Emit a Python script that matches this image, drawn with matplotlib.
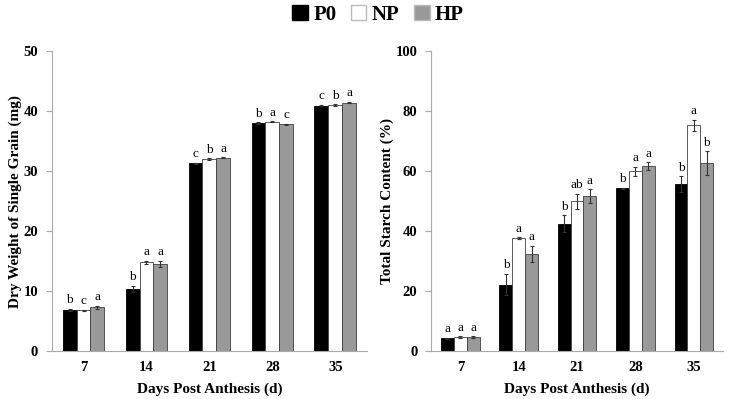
import numpy as np
import matplotlib.pyplot as plt
from matplotlib.patches import Patch

plt.rcParams['font.family'] = ['Liberation Serif', 'DejaVu Serif']

days = ["7", "14", "21", "28", "35"]
treatments = ["P0", "NP", "HP"]
colors = ["black", "white", "#999999"]

# dry weight of single grain (mg)
dw_P0 = [6.9, 10.4, 31.3, 38.0, 40.9]
dw_NP = [6.8, 14.8, 32.0, 38.2, 41.0]
dw_HP = [7.3, 14.5, 32.2, 37.8, 41.4]
dw_err_P0 = [0.15, 0.5, 0.1, 0.1, 0.1]
dw_err_NP = [0.1, 0.2, 0.1, 0.1, 0.1]
dw_err_HP = [0.2, 0.5, 0.1, 0.1, 0.1]
dw_let_P0 = ["b", "b", "c", "b", "c"]
dw_let_NP = ["c", "a", "b", "a", "b"]
dw_let_HP = ["a", "a", "a", "c", "a"]

# total starch content (%)
sc_P0 = [4.3, 22.2, 42.4, 54.3, 55.6]
sc_NP = [4.7, 37.6, 50.0, 60.0, 75.2]
sc_HP = [4.6, 32.4, 51.7, 61.6, 62.6]
sc_err_P0 = [0.2, 3.5, 2.8, 0.2, 2.6]
sc_err_NP = [0.2, 0.3, 2.5, 1.5, 1.8]
sc_err_HP = [0.3, 2.8, 2.2, 1.3, 4.0]
sc_let_P0 = ["a", "b", "b", "b", "b"]
sc_let_NP = ["a", "a", "ab", "a", "a"]
sc_let_HP = ["a", "a", "a", "a", "b"]

fig = plt.figure(figsize=(7.37, 3.99), dpi=100)
ax1 = fig.add_axes([0.0706, 0.120, 0.427, 0.752])
ax2 = fig.add_axes([0.585, 0.120, 0.396, 0.752])

def draw(ax, vals, errs, lets, ymax, step, ylabel):
    x = np.arange(len(days))
    w = 0.22
    for i in range(3):
        xs = x + (i - 1) * w
        ax.bar(xs, vals[i], w, color=colors[i], edgecolor="#404040" if i else "black",
               linewidth=0.6, zorder=2)
        ax.errorbar(xs, vals[i], yerr=errs[i], fmt="none", ecolor="#333333",
                    elinewidth=0.8, capsize=1.5, capthick=0.8, zorder=3)
        for xx, v, e, l in zip(xs, vals[i], errs[i], lets[i]):
            ax.annotate(l, (xx, v + e), xytext=(0, 2), textcoords="offset points",
                        ha="center", va="bottom", fontsize=9.5)
    ax.set_xlim(-0.5, len(days) - 0.5)
    ax.set_ylim(0, ymax)
    ax.set_yticks(np.arange(0, ymax + 1, step))
    ax.set_xticks(x)
    ax.set_xticklabels(days)
    for s in ["top", "right"]:
        ax.spines[s].set_visible(False)
    for s in ["left", "bottom"]:
        ax.spines[s].set_color("#aaaaaa")
    ax.tick_params(axis="x", length=0, pad=7)
    ax.tick_params(axis="y", length=4, color="#aaaaaa", pad=6)
    for t in ax.get_xticklabels() + ax.get_yticklabels():
        t.set_fontweight("bold")
        t.set_fontsize(10.5)
    ax.set_xlabel("Days Post Anthesis (d)", fontsize=11, fontweight="bold", labelpad=6)
    ax.set_ylabel(ylabel, fontsize=11, fontweight="bold", labelpad=1)

draw(ax1, [dw_P0, dw_NP, dw_HP], [dw_err_P0, dw_err_NP, dw_err_HP],
     [dw_let_P0, dw_let_NP, dw_let_HP], 50, 10, "Dry Weight of Single Grain (mg)")
draw(ax2, [sc_P0, sc_NP, sc_HP], [sc_err_P0, sc_err_NP, sc_err_HP],
     [sc_let_P0, sc_let_NP, sc_let_HP], 100, 20, "Total Starch Content (%)")

handles = [Patch(facecolor=c, edgecolor="#bbbbbb" if c != "black" else "black") for c in colors]
fig.legend(handles, treatments, loc="upper center", bbox_to_anchor=(0.513, 1.035), ncol=3,
           frameon=False, prop={"weight": "bold", "size": 15}, handlelength=0.75,
           handleheight=0.75, handletextpad=0.25, columnspacing=0.7)

fig.savefig("out.png", dpi=100)
